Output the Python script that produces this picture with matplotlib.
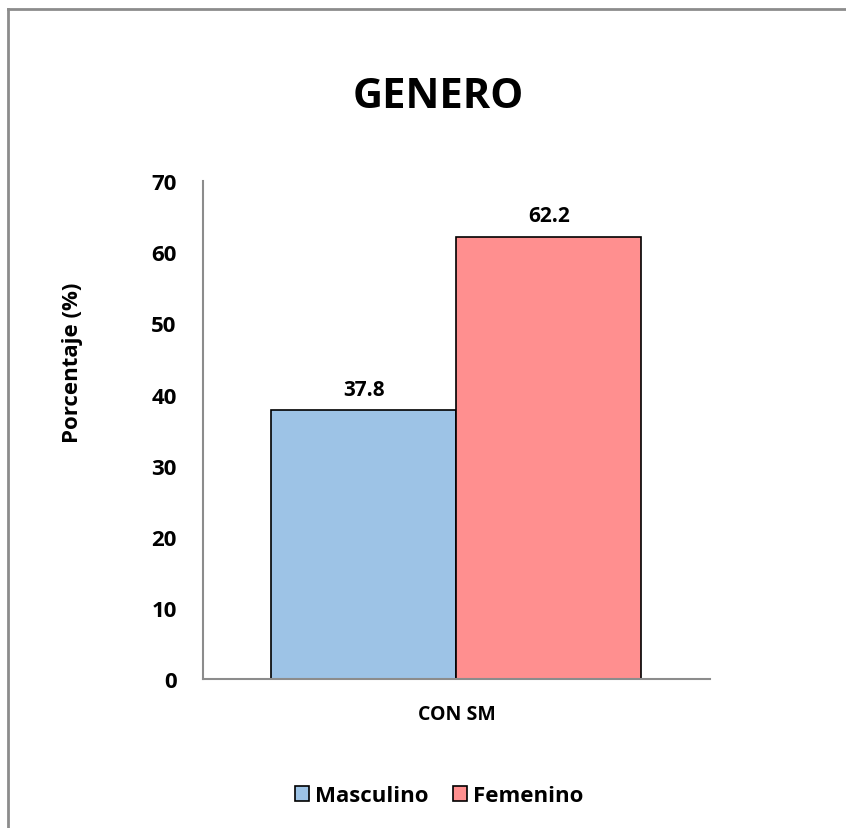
import matplotlib.pyplot as plt
from matplotlib.lines import Line2D

plt.rcParams['font.family'] = ['Open Sans', 'DejaVu Sans']
plt.rcParams['font.weight'] = 'bold'

# Données
categories = ['CON SM']
series = ['Masculino', 'Femenino']
values = [37.8, 62.2]
colors = ['#9DC3E6', '#FF8F8F']

fig = plt.figure(figsize=(8.46, 8.29), dpi=100)
ax = fig.add_axes([0.240, 0.180, 0.599, 0.600])

width = 0.365
offsets = [-width / 2, width / 2]
for name, val, col, off in zip(series, values, colors, offsets):
    ax.bar(off, val, width=width, color=col, edgecolor='black', linewidth=1.2, label=name)
    ax.text(off, val + 1.5, f'{val:.1f}', ha='center', va='bottom', fontsize=15, fontweight='bold')

ax.set_xlim(-0.5, 0.5)
ax.set_ylim(0, 70)
ax.set_yticks(range(0, 71, 10))
ax.set_xticks([0])
ax.set_xticklabels(categories, fontsize=14, fontweight='bold')
ax.tick_params(axis='x', length=0, pad=18)
ax.tick_params(axis='y', length=0, pad=19, labelsize=16)
for lab in ax.get_yticklabels():
    lab.set_fontweight('bold')

for s in ['top', 'right']:
    ax.spines[s].set_visible(False)
for s in ['left', 'bottom']:
    ax.spines[s].set_color('#8c8c8c')
    ax.spines[s].set_linewidth(1.5)

ax.set_ylabel('Porcentaje (%)', fontsize=16, fontweight='bold')
ax.yaxis.set_label_coords(-0.237, 0.637)
fig.text(0.518, 0.882, 'GENERO', ha='center', va='center', fontsize=30, fontweight='bold')

ax.legend(loc='center', bbox_to_anchor=(0.519, 0.039), bbox_transform=fig.transFigure,
          ncol=2, frameon=False, fontsize=16, handlelength=0.65, handleheight=0.65,
          handletextpad=0.25, columnspacing=1.1)

# Cadre gris de la figure
fig.add_artist(Line2D([8 / 846, 8 / 846], [0, 1 - 10 / 829], color='#8c8c8c', lw=2))
fig.add_artist(Line2D([8 / 846, 1], [1 - 10 / 829, 1 - 10 / 829], color='#8c8c8c', lw=2))

fig.savefig('out.png', dpi=100)
